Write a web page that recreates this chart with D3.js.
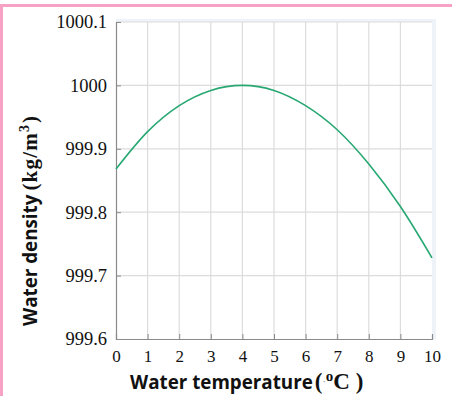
<!DOCTYPE html>
<html>
<head>
<meta charset="utf-8">
<script src="https://cdn.jsdelivr.net/npm/d3@7"></script>
<style>
  body { margin: 0; background: white; }
  svg { display: block; }
</style>
</head>
<body>
<script>
// temperature (°C) and density (kg/m3)
const temps = [0, 1, 2, 3, 4, 5, 6, 7, 8, 9, 10];
const density = [999.868, 999.927, 999.968, 999.992, 1000.0, 999.992, 999.968, 999.93, 999.876, 999.809, 999.728];
const yTicks = [999.6, 999.7, 999.8, 999.9, 1000, 1000.1];
const xTicks = [0, 1, 2, 3, 4, 5, 6, 7, 8, 9, 10];

const width = 452, height = 396;
const margin = {top: 22, right: 20, bottom: 57, left: 116};
const plotW = width - margin.left - margin.right;
const plotH = height - margin.top - margin.bottom;

const svg = d3.select("body").append("svg")
    .attr("width", width)
    .attr("height", height);

// pink frame at left and top
svg.append("rect").attr("x", 0).attr("y", 4).attr("width", width).attr("height", 3).attr("fill", "#f7a1c4");
svg.append("rect").attr("x", 0).attr("y", 4).attr("width", 3).attr("height", height).attr("fill", "#f7a1c4");

const x = d3.scaleLinear().domain([0, 10]).range([0, plotW]);
const y = d3.scaleLinear().domain([999.6, 1000.1]).range([plotH, 0]);

const g = svg.append("g").attr("transform", `translate(${margin.left},${margin.top})`);

// light blue backing, then white plot area
g.append("rect").attr("x", 0).attr("y", -3).attr("width", plotW + 4).attr("height", plotH + 3).attr("fill", "#eef3fa");
g.append("rect").attr("x", 0).attr("y", 0).attr("width", plotW).attr("height", plotH).attr("fill", "white");

// grid
g.append("g").selectAll("line")
    .data(xTicks.slice(1, -1))
    .join("line")
    .attr("x1", d => x(d)).attr("x2", d => x(d))
    .attr("y1", 0).attr("y2", plotH)
    .attr("stroke", "#dcdcdc").attr("stroke-width", 1.2);
g.append("g").selectAll("line")
    .data(yTicks.slice(1))
    .join("line")
    .attr("x1", 0).attr("x2", plotW)
    .attr("y1", d => y(d)).attr("y2", d => y(d))
    .attr("stroke", "#dcdcdc").attr("stroke-width", 1.2);

// axes
const xAxis = g.append("g")
    .attr("transform", `translate(0,${plotH})`)
    .call(d3.axisBottom(x).tickValues(xTicks).tickSize(-5).tickPadding(11).tickFormat(d3.format("d")));
const yAxis = g.append("g")
    .call(d3.axisLeft(y).tickValues(yTicks).tickSize(-5).tickPadding(9).tickFormat(d => d === 1000 ? "1000" : d3.format(".1f")(d)));

[xAxis, yAxis].forEach(a => {
  a.select(".domain").attr("stroke", "#8a8a8a").attr("stroke-width", 1.2);
  a.selectAll(".tick line").attr("stroke", "#8a8a8a");
  a.selectAll(".tick text")
    .attr("fill", "#111")
    .attr("font-family", "'Liberation Serif', serif");
});
xAxis.selectAll(".tick text").attr("font-size", 17);
yAxis.selectAll(".tick text").attr("font-size", 18.5);

// the curve
const line = d3.line()
    .x((d, i) => x(temps[i]))
    .y(d => y(d))
    .curve(d3.curveMonotoneX);

g.append("path")
    .datum(density)
    .attr("fill", "none")
    .attr("stroke", "#27a872")
    .attr("stroke-width", 1.6)
    .attr("d", line);

const serif = "'Liberation Serif', serif";
const sans = "'Open Sans', sans-serif";

// x title
const xt = svg.append("text")
    .attr("x", 130)
    .attr("y", 389)
    .attr("fill", "#111")
    .attr("font-weight", "bold");
xt.append("tspan").attr("font-family", sans).attr("font-size", 18.8).text("Water temperature");
xt.append("tspan").attr("font-family", serif).attr("font-size", 23).attr("dx", 2).text("(");
xt.append("tspan").attr("font-family", serif).attr("font-size", 10).attr("font-weight", "normal").attr("fill", "#777").attr("dy", -4).text("·");
xt.append("tspan").attr("font-family", serif).attr("font-size", 15).attr("dy", -4).text("o");
xt.append("tspan").attr("font-family", serif).attr("font-size", 23).attr("dy", 8).text("C )");

// y title
const yt = svg.append("text")
    .attr("transform", "translate(37,326) rotate(-90)")
    .attr("fill", "#111")
    .attr("font-weight", "bold");
yt.append("tspan").attr("font-family", sans).attr("font-size", 18.8).text("Water density");
yt.append("tspan").attr("font-family", serif).attr("font-size", 21).attr("dx", 4).attr("letter-spacing", 1.2).text("(kg/m");
yt.append("tspan").attr("font-family", serif).attr("font-size", 14).attr("dy", -8).text("3");
yt.append("tspan").attr("font-family", serif).attr("font-size", 21).attr("dx", 2).attr("dy", 8).text(")");
</script>
</body>
</html>
